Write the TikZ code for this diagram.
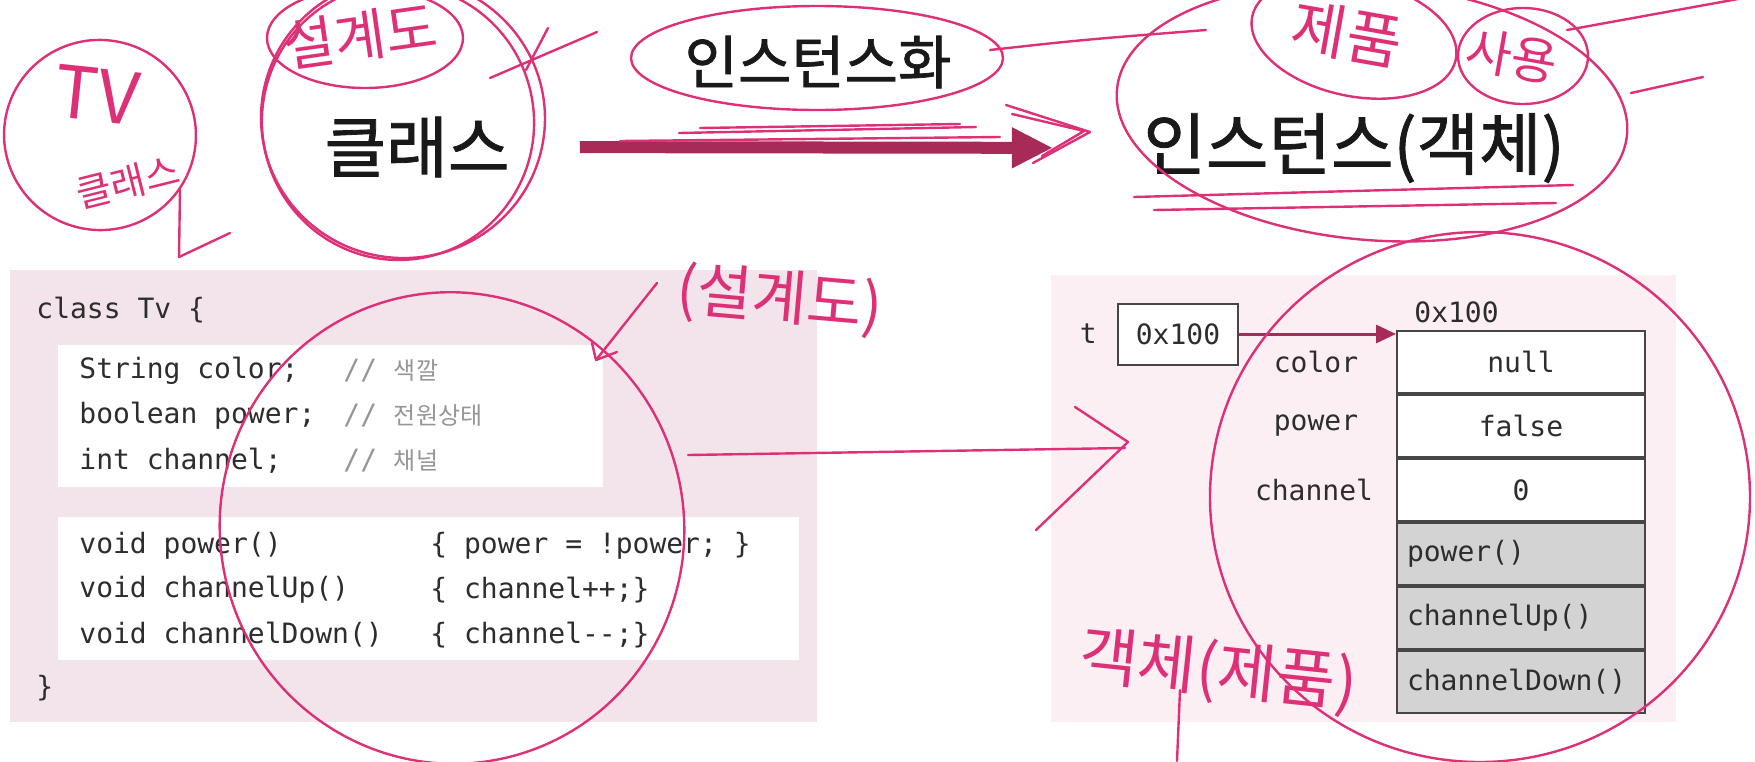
\documentclass[tikz,border=0pt]{standalone}
\usepackage{fontspec}
\setmainfont{Noto Sans CJK KR}
\setmonofont{DejaVu Sans Mono}
\newfontfamily\krfont{Noto Sans CJK KR}
\newfontfamily\titlefont[FakeBold=1.2]{Noto Sans CJK KR}
\usetikzlibrary{positioning}
\usetikzlibrary{arrows.meta}
\definecolor{inkpink}{RGB}{222,48,118}
\definecolor{arrowred}{RGB}{168,42,88}
\definecolor{boxpink}{RGB}{242,228,234}
\definecolor{boxpinklt}{RGB}{251,239,243}
\definecolor{codegray}{RGB}{45,45,45}
\definecolor{cmtgray}{RGB}{150,150,150}
\definecolor{cellgray}{RGB}{211,211,211}
\definecolor{cellline}{RGB}{70,70,70}

\begin{document}
\begin{tikzpicture}[x=0.5pt,y=-0.5pt,
  title/.style={inner sep=0pt, text=black!90, font=\titlefont\fontsize{33.5}{38}\selectfont},
  code/.style={anchor=west, inner sep=0pt, text=codegray, font=\ttfamily\fontsize{14}{16}\selectfont},
  cmt/.style={anchor=west, inner sep=0pt, text=cmtgray, font=\ttfamily\fontsize{14}{16}\selectfont},
  cell/.style={draw=cellline, line width=1pt, fill=white, minimum height=31pt,
    text width=114pt, inner xsep=5pt, inner ysep=0pt, align=center, text=codegray,
    font=\ttfamily\fontsize{14}{16}\selectfont},
  method/.style={cell, fill=cellgray, align=left},
  lbl/.style={inner sep=0pt, text=codegray, font=\ttfamily\fontsize{14}{16}\selectfont},
  ink/.style={draw=inkpink, line width=1.2pt, line cap=round, line join=round},
  inktext/.style={text=inkpink, inner sep=0pt},
]
\useasboundingbox (0,0) rectangle (1755,761);

% slide backgrounds
\fill[boxpink] (10,270) rectangle (817,722);
\fill[white] (58,345) rectangle (603,487);
\fill[white] (58,517) rectangle (799,660);
\fill[boxpinklt] (1051,275) rectangle (1676,722);

% titles
\node[title] (class) at (417,147) {클래스};
\node[title, font=\titlefont\fontsize{29}{33}\selectfont] (inst) at (818,62) {인스턴스화};
\node[title, font=\titlefont\fontsize{34}{38}\selectfont] (obj) at (1354,148) {인스턴스(객체)};

\draw[arrowred, line width=6pt, -{Triangle[length=20.5pt,width=19pt]},
  shorten <=35pt, shorten >=45pt] (class.east) -- (obj.west);

% class code
\node[code] (head) at (36,310) {class Tv \{};
\node[code] (f1) at (79,371) {String color;};
\node[code] (f2) at (79,416) {boolean power;};
\node[code] (f3) at (79,461) {int channel;};
\node[cmt] (c1) at (343,371) {// {\krfont\fontsize{12}{14}\selectfont 색깔}};
\node[cmt] (c2) at (343,416) {// {\krfont\fontsize{12}{14}\selectfont 전원상태}};
\node[cmt] (c3) at (343,461) {// {\krfont\fontsize{12}{14}\selectfont 채널}};
\node[code] (m1) at (79,546) {void power()};
\node[code] (m2) at (79,590) {void channelUp()};
\node[code] (m3) at (79,635) {void channelDown()};
\node[code] (b1) at (430,546) {\{ power = !power; \}};
\node[code] (b2) at (430,590) {\{ channel++;\}};
\node[code] (b3) at (430,635) {\{ channel--;\}};
\node[code] (tail) at (36,688) {\}};

% instance in memory
\node[cell] (r1) at (1521,362) {null};
\node[cell, below=0pt of r1] (r2) {false};
\node[cell, below=0pt of r2] (r3) {0};
\node[method, below=0pt of r3] (r4) {power()};
\node[method, below=0pt of r4] (r5) {channelUp()};
\node[method, below=0pt of r5] (r6) {channelDown()};

\node[lbl, xshift=-40pt] (lcolor) at (r1.west) {color};
\node[lbl, xshift=-40pt] (lpower) at (r2.west) {power};
\node[lbl, xshift=-41pt] (lchannel) at (r3.west) {channel};
\node[lbl, anchor=west] (addr) at (1414,312) {0x100};

\node[draw=cellline, line width=1pt, fill=white, minimum width=60pt, minimum height=30.5pt,
  inner sep=0pt, text=codegray, font=\ttfamily\fontsize{14}{16}\selectfont] (ptr) at (1178,334) {0x100};
\node[lbl, left=10pt of ptr] (tvar) {t};
\draw[arrowred, line width=1.5pt, -{Triangle[length=10pt,width=9pt]}] (ptr.east) -- (ptr.east -| r1.west);

% handwriting
\draw[ink, rotate around={-15:(100,135)}] (100,135) ellipse [x radius=96, y radius=95];
\node[inktext, font=\fontsize{36}{40}\selectfont, rotate=-6] (tv) at (97,95) {TV};
\node[inktext, font=\fontsize{19}{22}\selectfont, rotate=14] (tvclass) at (128,182) {클래스};
\draw[ink] (180,190) -- (179,257) -- (230,233);

\draw[ink, rotate around={10:(398,122)}] (398,122) ellipse [x radius=136, y radius=138];
\draw[ink, rotate around={-8:(403,118)}] (403,118) ellipse [x radius=142, y radius=140];
\draw[ink] (365,38) ellipse [x radius=98, y radius=50];
\node[inktext, font=\fontsize{28}{30}\selectfont, rotate=8] (plan1) at (360,36) {설계도};
\draw[ink] (490,78) -- (597,32);
\draw[ink] (526,70) -- (548,28);

\draw[ink] (817,58) ellipse [x radius=186, y radius=52];
\draw[ink] (679,133) -- (976,127);
\draw[ink] (700,128) -- (960,124);
\draw[ink] (990,50) .. controls (1080,40) .. (1206,30);
\draw[ink] (620,141) -- (1000,137);
\draw[ink] (1006,105) -- (1090,132) -- (1033,163);
\draw[ink] (1012,114) -- (1084,131) -- (1042,156);

\draw[ink, rotate around={-5:(1372,112)}] (1372,112) ellipse [x radius=256, y radius=128];
\draw[ink] (1134,197) -- (1573,185);
\draw[ink] (1154,210) -- (1556,203);
\draw[ink, rotate around={-12:(1354,38)}] (1354,38) ellipse [x radius=104, y radius=58];
\node[inktext, font=\fontsize{30}{32}\selectfont, rotate=-10] (prod1) at (1347,34) {제품};
\draw[ink] (1523,56) ellipse [x radius=65, y radius=48];
\node[inktext, font=\fontsize{25}{27}\selectfont, rotate=-10] (use) at (1512,56) {사용};
\draw[ink] (1567,30) -- (1760,-5);
\draw[ink] (1631,93) -- (1703,77);

\draw[ink, rotate around={15:(452,528)}] (452,528) ellipse [x radius=232, y radius=236];
\node[inktext, font=\fontsize{30}{32}\selectfont, rotate=-5] (plan2) at (780,300) {(설계도)};
\draw[ink] (657,283) -- (596,360);
\draw[ink] (592,343) -- (596,360) -- (617,352);
\draw[ink] (688,455) -- (1125,448);
\draw[ink] (1075,407) -- (1128,442) -- (1036,530);

\draw[ink] (1480,497) ellipse [x radius=270, y radius=265];
\node[inktext, font=\fontsize{32}{34}\selectfont, rotate=-6] (objprod) at (1218,672) {객체(제품)};
\draw[ink] (1180,690) -- (1177,761);
\end{tikzpicture}
\end{document}
